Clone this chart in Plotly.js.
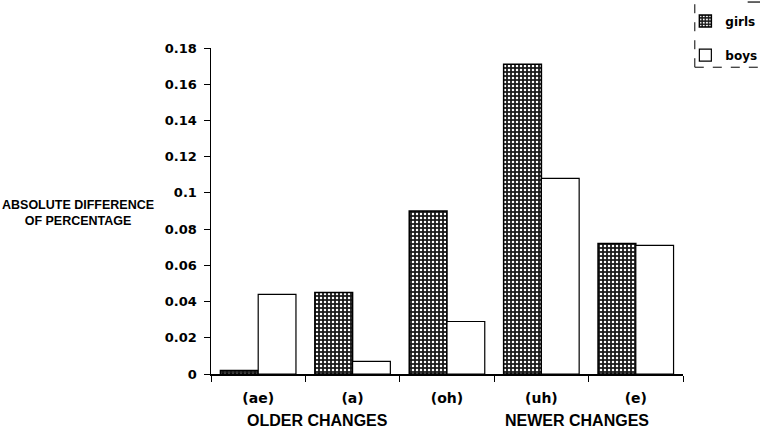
<!DOCTYPE html>
<html>
<head>
<meta charset="utf-8">
<script src="https://cdn.plot.ly/plotly-3.0.1.min.js"></script>
<style>html,body{margin:0;padding:0;background:#fff;}#chart{width:760px;height:434px;}</style>
</head>
<body>
<div id="chart"></div>
<script>
const categories = ["(ae)", "(a)", "(oh)", "(uh)", "(e)"];
const girls = [0.002, 0.045, 0.090, 0.171, 0.072];
const boys = [0.044, 0.007, 0.029, 0.108, 0.071];
const yTicks = [0, 0.02, 0.04, 0.06, 0.08, 0.1, 0.12, 0.14, 0.16, 0.18];
const yTickText = ["0", "0.02", "0.04", "0.06", "0.08", "0.1", "0.12", "0.14", "0.16", "0.18"];
const groupLabels = ["OLDER CHANGES", "NEWER CHANGES"];
const yTitle = "ABSOLUTE DIFFERENCE<br>OF PERCENTAGE";

const FONT = "Liberation Sans, Arial, Helvetica, sans-serif";
const TICKFONT = "DejaVu Sans, Liberation Sans, sans-serif";

const traces = [
  {
    type: "bar", name: "girls", x: categories, y: girls,
    legendgroup: "g1",
    marker: {
      color: "#1a1a1a",
      line: {color: "#000", width: 1.5},
      pattern: {shape: ".", fgcolor: "#ffffff", bgcolor: "#1a1a1a", size: 4, solidity: 0.3, fillmode: "replace"}
    }
  },
  {
    type: "bar", name: "boys", x: categories, y: boys,
    legendgroup: "g2",
    marker: {color: "#ffffff", line: {color: "#000", width: 1.2}}
  }
];

const legendBox = {color: "#000", width: 1, dash: "dash"};

const layout = {
  width: 760, height: 434,
  margin: {l: 211, r: 77, t: 48, b: 60, autoexpand: false},
  paper_bgcolor: "#fff", plot_bgcolor: "#fff",
  font: {family: FONT, size: 13, color: "#000", weight: "bold"},
  barmode: "group", bargap: 0.2, bargroupgap: 0,
  showlegend: true,
  legend: {
    x: 1.005, xanchor: "left", y: 1.127, yanchor: "top",
    font: {family: TICKFONT, size: 12, color: "#000", weight: "bold"},
    traceorder: "grouped", tracegroupgap: 15,
    bgcolor: "rgba(0,0,0,0)", itemwidth: 30
  },
  xaxis: {
    showline: true, linecolor: "#000", linewidth: 1.5,
    ticks: "outside", ticklen: 6, tickcolor: "#000", tickwidth: 1,
    tickson: "boundaries", showgrid: false, zeroline: false,
    ticklabelstandoff: 11,
    tickfont: {family: TICKFONT, size: 14, weight: "bold"},
    fixedrange: true
  },
  yaxis: {
    range: [0, 0.18], tickvals: yTicks, ticktext: yTickText,
    showline: true, linecolor: "#000", linewidth: 1.5,
    ticks: "outside", ticklen: 6, tickcolor: "#000", tickwidth: 1,
    showgrid: false, zeroline: false,
    ticklabelstandoff: 4,
    tickfont: {family: TICKFONT, size: 13, weight: "bold"},
    fixedrange: true
  },
  annotations: [
    {text: yTitle, xref: "paper", yref: "paper", x: -0.282, y: 0.494, xanchor: "center", yanchor: "middle",
     showarrow: false, align: "center", font: {family: FONT, size: 12.5, weight: "bold"}},
    {text: groupLabels[0], xref: "paper", yref: "paper", x: 0.225, y: -0.143, xanchor: "center", yanchor: "middle",
     showarrow: false, font: {family: FONT, size: 16, weight: "bold"}},
    {text: groupLabels[1], xref: "paper", yref: "paper", x: 0.775, y: -0.143, xanchor: "center", yanchor: "middle",
     showarrow: false, font: {family: FONT, size: 16, weight: "bold"}}
  ],
  shapes: [
    {type: "line", xref: "paper", yref: "paper", x0: 1.025, x1: 1.025, y0: 0.941, y1: 1.141, line: legendBox},
    {type: "line", xref: "paper", yref: "paper", x0: 1.025, x1: 1.2, y0: 0.941, y1: 0.941, line: legendBox},
    {type: "line", xref: "paper", yref: "paper", x0: 1.137, x1: 1.2, y0: 1.141, y1: 1.141,
     line: {color: "#000", width: 1.2}}
  ]
};

Plotly.newPlot("chart", traces, layout, {staticPlot: true, displayModeBar: false});
</script>
</body>
</html>
